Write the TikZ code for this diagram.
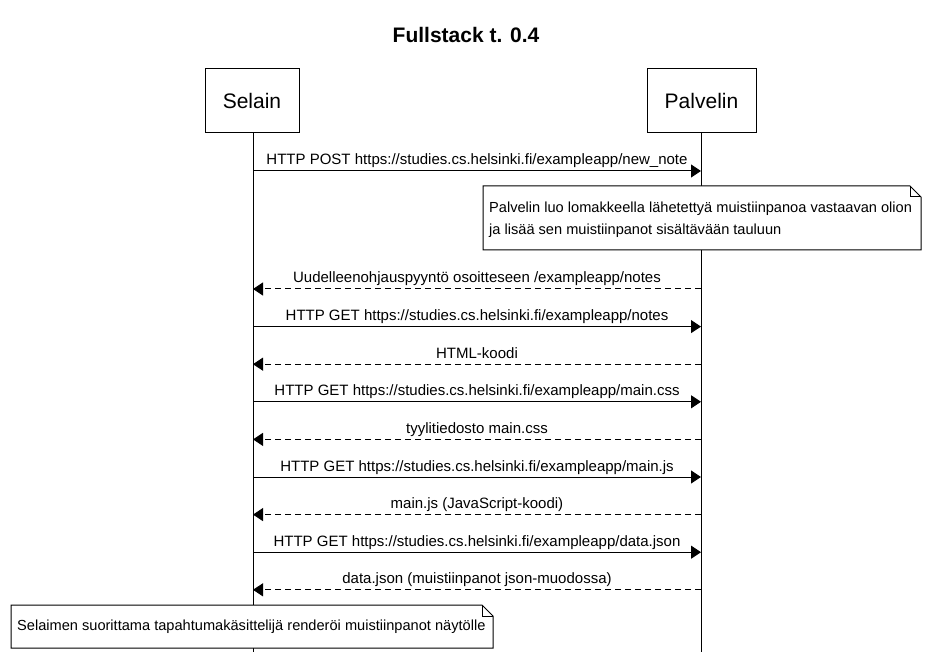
\documentclass[tikz,border=0pt]{standalone}
\usepackage{fontspec}
\setmainfont{Liberation Sans}
\usetikzlibrary{arrows.meta}
\begin{document}
\begin{tikzpicture}[x=1pt,y=-1pt,
  actorbox/.style={draw=black,line width=1pt,fill=white,minimum width=#1,minimum height=64pt,inner sep=0pt,font=\fontsize{21}{24}\selectfont},
  lifeline/.style={line width=1pt,black},
  msg/.style={line width=1pt,-{Triangle[length=10pt,width=13pt]}},
  reply/.style={msg,dash pattern=on 6pt off 4pt},
  msglabel/.style={anchor=base,inner sep=0pt,font=\fontsize{15}{18}\selectfont},
  notebox/.style={draw=black,line width=1pt,fill=white},
  notetext/.style={anchor=west,inner sep=0pt,align=left,font=\fontsize{14.6}{21.5}\selectfont}]
\useasboundingbox[fill=white] (0,0) rectangle (937,652);
\node[font=\bfseries\fontsize{21}{24}\selectfont] (title) at (466,35) {Fullstack t. 0.4};
\node[actorbox=94pt] (sel) at (252,101) {Selain};
\node[actorbox=109pt] (pal) at (701.5,101) {Palvelin};
\coordinate (selend) at (253,652);
\coordinate (palend) at (701,652);
\draw[lifeline] (sel.south -| selend) -- (selend);
\draw[lifeline] (pal.south -| palend) -- (palend);
% messages
\foreach \i/\y in {1/171,2/289,3/326.6,4/364.2,5/401.8,6/439.4,7/477,8/514.6,9/552.2,10/589.8}{
  \coordinate (s\i) at (253,\y);
  \coordinate (p\i) at (701,\y);
}
\draw[msg] (s1) -- (p1) node[msglabel,pos=0.5,yshift=6pt] {HTTP POST https://studies.cs.helsinki.fi/exampleapp/new\_note};
\draw[reply] (p2) -- (s2) node[msglabel,pos=0.5,yshift=6pt] {Uudelleenohjauspyyntö osoitteseen /exampleapp/notes};
\draw[msg] (s3) -- (p3) node[msglabel,pos=0.5,yshift=6pt] {HTTP GET https://studies.cs.helsinki.fi/exampleapp/notes};
\draw[reply] (p4) -- (s4) node[msglabel,pos=0.5,yshift=6pt] {HTML-koodi};
\draw[msg] (s5) -- (p5) node[msglabel,pos=0.5,yshift=6pt] {HTTP GET https://studies.cs.helsinki.fi/exampleapp/main.css};
\draw[reply] (p6) -- (s6) node[msglabel,pos=0.5,yshift=6pt] {tyylitiedosto main.css};
\draw[msg] (s7) -- (p7) node[msglabel,pos=0.5,yshift=6pt] {HTTP GET https://studies.cs.helsinki.fi/exampleapp/main.js};
\draw[reply] (p8) -- (s8) node[msglabel,pos=0.5,yshift=6pt] {main.js (JavaScript-koodi)};
\draw[msg] (s9) -- (p9) node[msglabel,pos=0.5,yshift=6pt] {HTTP GET https://studies.cs.helsinki.fi/exampleapp/data.json};
\draw[reply] (p10) -- (s10) node[msglabel,pos=0.5,yshift=6pt] {data.json (muistiinpanot json-muodossa)};
% note 1
\draw[notebox] (483,186) -- (910,186) -- (921,197) -- (921,250) -- (483,250) -- cycle;
\draw[line width=1pt] (910,186) -- (910,197) -- (921,197);
\node[notetext] (note1) at (489,219.5) {Palvelin luo lomakkeella lähetettyä muistiinpanoa vastaavan olion\\ja lisää sen muistiinpanot sisältävään tauluun};
% note 2
\draw[notebox] (11,605) -- (482,605) -- (493,616) -- (493,648) -- (11,648) -- cycle;
\draw[line width=1pt] (482,605) -- (482,616) -- (493,616);
\node[notetext] (note2) at (17,627) {Selaimen suorittama tapahtumakäsittelijä renderöi muistiinpanot näytölle};
\end{tikzpicture}
\end{document}
